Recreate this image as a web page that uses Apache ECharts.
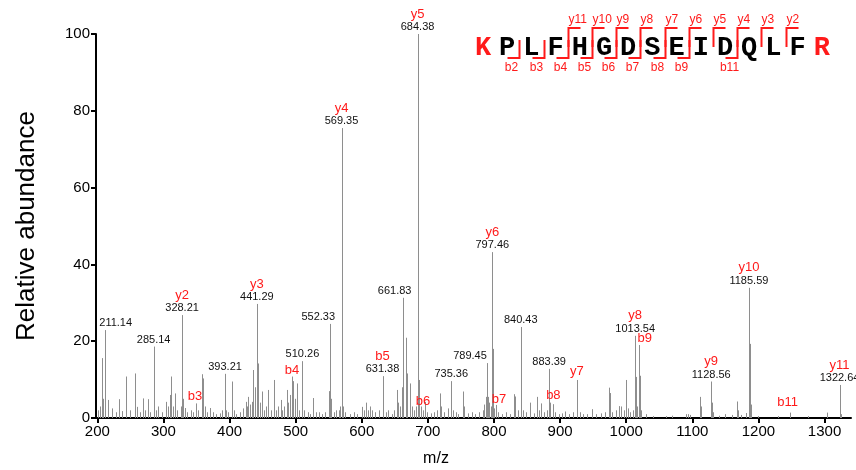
<!DOCTYPE html>
<html>
<head>
<meta charset="utf-8">
<script src="https://cdn.jsdelivr.net/npm/echarts@6/dist/echarts.min.js"></script>
<style>
html, body { margin: 0; padding: 0; background: #fff; }
#chart { width: 856px; height: 470px; }
</style>
</head>
<body>
<div id="chart"></div>
<script>
// Annotated fragment peaks: m/z, relative abundance, assigned ion
const annotatedMz = [211.14, 285.14, 328.21, 393.21, 441.29, 510.26, 552.33, 569.35, 631.38, 661.83,
  684.38, 735.36, 789.45, 797.46, 840.43, 883.39, 1013.54, 1128.56, 1185.59, 1322.64];
const annotatedAbundance = [22.9, 18.6, 26.8, 11.5, 29.7, 14.8, 24.5, 75.5, 10.9, 31.3,
  100, 9.6, 14.3, 43.2, 23.7, 12.8, 21.4, 9.5, 33.9, 8.6];
const annotatedIon = ['', '', 'y2', '', 'y3', '', '', 'y4', 'b5', '',
  'y5', '', '', 'y6', '', '', 'y8', 'y9', 'y10', 'y11'];

// Remaining centroided peaks of the MS/MS scan
const otherMz = [201.7, 204.5, 207.7, 209.0, 216.8, 222.0, 228.0, 233.4, 238.0, 244.0, 250.0, 257.1, 260.6,
  264.0, 268.7, 272.0, 276.3, 280.0, 289.0, 292.4, 298.0, 303.5, 307.0, 310.0, 311.5, 314.0, 317.6, 321.0,
  326.0, 329.2, 332.7, 336.0, 341.8, 344.0, 348.8, 352.0, 357.9, 360.4, 363.0, 366.0, 370.5, 375.0, 380.0,
  386.0, 389.0, 395.0, 398.0, 403.3, 406.0, 410.0, 416.0, 421.0, 424.5, 426.0, 428.4, 431.0, 433.5, 436.0,
  438.0, 443.5, 446.0, 448.6, 452.0, 455.0, 458.6, 462.0, 467.7, 471.0, 474.0, 477.3, 480.0, 483.0, 486.4,
  489.0, 492.0, 494.9, 496.5, 499.0, 501.5, 505.0, 513.0, 518.0, 522.0, 526.7, 531.0, 535.0, 540.0, 545.0,
  550.8, 553.5, 558.0, 561.0, 565.0, 567.0, 570.36, 572.0, 575.0, 582.0, 588.0, 593.0, 599.8, 603.0, 606.3,
  609.0, 612.3, 616.0, 620.0, 626.0, 636.0, 640.0, 645.0, 648.0, 652.7, 655.0, 658.0, 660.5, 662.8, 666.8,
  668.8, 672.8, 676.0, 679.0, 682.0, 685.39, 686.4, 689.0, 692.0, 695.4, 699.0, 704.0, 709.0, 714.0, 718.2,
  720.0, 725.0, 731.0, 738.0, 742.0, 746.0, 753.4, 755.0, 760.0, 766.0, 772.0, 778.0, 783.0, 785.5, 787.5,
  791.5, 793.0, 795.0, 798.46, 800.0, 802.8, 806.0, 812.0, 818.0, 824.0, 830.5, 832.0, 836.0, 841.43, 844.0,
  848.0, 855.2, 860.0, 865.2, 868.0, 871.8, 876.0, 880.0, 884.4, 889.4, 893.0, 898.0, 903.0, 907.6, 914.0,
  920.0, 926.3, 930.0, 935.0, 941.0, 948.4, 955.0, 962.0, 968.0, 974.0, 975.5, 979.0, 984.0, 988.7, 992.5,
  996.0, 1000.3, 1003.0, 1006.0, 1010.0, 1014.54, 1016.0, 1019.4, 1020.4, 1023.0, 1030.0, 1040.0, 1060.0,
  1070.0, 1090.0, 1093.0, 1096.0, 1111.2, 1112.5, 1129.6, 1132.0, 1140.0, 1149.0, 1160.0, 1167.6, 1169.0,
  1173.0, 1180.6, 1186.6, 1188.0, 1200.0, 1230.0, 1248.0, 1275.0, 1304.0, 1323.6, 1325.0];
const otherAbundance = [2, 3, 15.6, 5, 4.7, 2.5, 1.5, 4.9, 1.8, 10.8, 2, 11.6, 2.9,
  1.5, 5.1, 2, 4.9, 1.5, 2, 3, 1.5, 4.2, 3, 6, 10.8, 3, 6.4, 2,
  3, 5, 2.6, 1.5, 2, 1.5, 3.8, 2, 11.4, 10.3, 3, 1.5, 2.6, 1.5, 1,
  1.2, 2, 2, 1.5, 9.5, 2, 1, 1.5, 2.5, 4.2, 3, 5.5, 3.5, 4.2, 12.5,
  8, 14.2, 4, 6.9, 2, 3, 7.3, 2, 9.9, 2, 3, 4.7, 2, 3, 7.3,
  4, 6, 10.8, 9.6, 5, 9, 2, 2, 1.5, 1, 5.2, 1.5, 1.5, 1, 1.5,
  7, 5, 1.5, 2, 2, 3, 16, 3, 1.5, 1, 1.5, 1, 2.9, 2, 4,
  2, 3, 2, 1.5, 2, 1.5, 2, 1, 2, 7.3, 4, 3, 8, 21.4, 20.9,
  11.6, 9, 3, 2, 3, 30.3, 9.9, 3, 2, 4.2, 1.5, 1.2, 1.5, 2, 6.4,
  3, 1.5, 2.5, 2, 1.5, 1, 6.9, 3, 1.2, 1.5, 1, 1.5, 2, 3.5, 5.5,
  5.5, 4, 3, 18, 2.5, 3.4, 1.5, 1, 1.5, 1, 6.2, 5.6, 2, 20, 2,
  1.5, 4, 1.2, 5.5, 2, 3.8, 1.5, 2, 4, 3.6, 1.5, 1, 1.2, 1.7, 1,
  1.5, 9.9, 1.5, 1, 1, 2.3, 1, 1.2, 1.5, 7.9, 6.5, 1.5, 2, 3.1, 3,
  2, 9.9, 2.5, 1.5, 2, 10.7, 3, 19, 11, 2, 1, 0.5, 0.5,
  0.6, 1, 1, 0.8, 5.5, 3, 4, 1.5, 0.6, 1, 0.8, 4.3, 2,
  0.8, 1.3, 19.3, 3.5, 0.5, 0.5, 1.4, 0.5, 1.4, 4.7, 1];

// Fragment ions tagged without an m/z readout, anchored in m/z / abundance units
const tagIon = ['b3', 'b4', 'b6', 'b7', 'b8', 'b9', 'y7', 'b11'];
const tagMz = [347.8, 494.4, 692.5, 807.4, 889.8, 1027.9, 925.2, 1244.1];
const tagAbundance = [5.7, 12.5, 4.4, 4.9, 5.8, 20.8, 12.0, 4.0];

// Axis ticks
const xTicks = [200, 300, 400, 500, 600, 700, 800, 900, 1000, 1100, 1200, 1300];
const yTicks = [0, 20, 40, 60, 80, 100];

// Peptide sequence with observed fragment coverage
const sequence = 'KPLFHGDSEIDQLFR';
const yIonsSeen = [2, 3, 4, 5, 6, 7, 8, 9, 10, 11];
const bIonsSeen = [2, 3, 4, 5, 6, 7, 8, 9, 11];

// Horizontal nudges (px) for readouts that sit beside crowded peaks
const readoutShift = { '211.14': 11, '552.33': -12, '661.83': -8, '789.45': -17 };

const FONT = '"Liberation Sans", Arial, Helvetica, sans-serif';
const RED = '#ff1a1a';
const PEAK = '#8e8e8e';

const peaks = [];
annotatedMz.forEach((m, i) => peaks.push([m, annotatedAbundance[i]]));
otherMz.forEach((m, i) => peaks.push([m, otherAbundance[i]]));

const readouts = annotatedMz.map((m, i) => [m, annotatedAbundance[i], annotatedIon[i]]);
const tags = tagMz.map((m, i) => [m, tagAbundance[i], tagIon[i]]);

// Sequence coverage graphic
const seqGraphic = [];
const x0 = 483, step = 24.2, yc = 48;
for (let i = 0; i < sequence.length; i++) {
  const terminal = (i === 0 || i === sequence.length - 1);
  seqGraphic.push({
    type: 'text', x: x0 + step * i, y: yc,
    style: {
      text: sequence[i], font: 'bold 27px "Liberation Mono", "Courier New", monospace',
      fill: terminal ? RED : '#000', align: 'center', verticalAlign: 'middle'
    }
  });
}
const cut = k => Math.round(x0 + step * (k - 0.5)) + 0.5;
yIonsSeen.forEach(n => {
  const cx = cut(sequence.length - n);
  seqGraphic.push({ type: 'polyline', shape: { points: [[cx + 12, 28], [cx, 28], [cx, 47]] },
    style: { stroke: RED, lineWidth: 2, fill: null } });
  seqGraphic.push({ type: 'text', x: cx, y: 20,
    style: { text: 'y' + n, font: '12px ' + FONT, fill: RED, align: 'left', verticalAlign: 'middle' } });
});
bIonsSeen.forEach(n => {
  const cx = cut(n);
  seqGraphic.push({ type: 'polyline', shape: { points: [[cx, 40], [cx, 58], [cx - 12, 58]] },
    style: { stroke: RED, lineWidth: 2, fill: null } });
  seqGraphic.push({ type: 'text', x: cx - 8, y: 68,
    style: { text: 'b' + n, font: '12px ' + FONT, fill: RED, align: 'center', verticalAlign: 'middle' } });
});
seqGraphic.push({ type: 'text', x: 436, y: 459,
  style: { text: 'm/z', font: '16px ' + FONT, fill: '#000', align: 'center', verticalAlign: 'middle' } });

const chart = echarts.init(document.getElementById('chart'), null, { renderer: 'canvas' });
chart.setOption({
  animation: false,
  backgroundColor: '#fff',
  grid: { left: 96, right: 5, top: 34, bottom: 52, containLabel: false },
  xAxis: {
    type: 'value', min: 198, max: 1340,
    axisLine: { lineStyle: { color: '#000', width: 2 } },
    axisTick: { show: true, length: 5, lineStyle: { color: '#000', width: 2 }, customValues: xTicks },
    axisLabel: { color: '#000', fontSize: 15, fontFamily: FONT, margin: 6, customValues: xTicks,
      formatter: v => String(v) },
    splitLine: { show: false }
  },
  yAxis: {
    type: 'value', min: 0, max: 100, interval: 20,
    name: 'Relative abundance', nameLocation: 'middle', nameGap: 56,
    nameTextStyle: { color: '#000', fontSize: 26, fontFamily: FONT },
    axisLine: { show: true, lineStyle: { color: '#000', width: 2 } },
    axisTick: { show: true, length: 5, lineStyle: { color: '#000', width: 2 }, customValues: yTicks },
    axisLabel: { color: '#000', fontSize: 15, fontFamily: FONT, margin: 6, customValues: yTicks,
      formatter: v => String(v) },
    splitLine: { show: false }
  },
  graphic: seqGraphic,
  series: [
    {
      type: 'custom', data: peaks, clip: true,
      renderItem(params, api) {
        const b = api.coord([api.value(0), 0]);
        const t = api.coord([api.value(0), api.value(1)]);
        const x = Math.round(b[0]) + 0.5;
        return { type: 'line', shape: { x1: x, y1: b[1], x2: x, y2: t[1] },
          style: { stroke: PEAK, lineWidth: 1 } };
      }
    },
    {
      type: 'custom', data: readouts, clip: false, z: 5,
      renderItem(params, api) {
        const d = readouts[params.dataIndex];
        const p = api.coord([d[0], d[1]]);
        const key = d[0].toFixed(2);
        const dx = readoutShift[key] || 0;
        const children = [{ type: 'text', x: p[0] + dx, y: p[1] - 7,
          style: { text: key, font: '11px ' + FONT, fill: '#111', align: 'center', verticalAlign: 'middle' } }];
        if (d[2]) {
          children.push({ type: 'text', x: p[0] + dx, y: p[1] - 20,
            style: { text: d[2], font: '13px ' + FONT, fill: RED, align: 'center', verticalAlign: 'middle' } });
        }
        return { type: 'group', children };
      }
    },
    {
      type: 'custom', data: tags, clip: false, z: 5,
      renderItem(params, api) {
        const d = tags[params.dataIndex];
        const p = api.coord([d[0], d[1]]);
        return { type: 'text', x: p[0], y: p[1],
          style: { text: d[2], font: '13px ' + FONT, fill: RED, align: 'center', verticalAlign: 'middle' } };
      }
    }
  ]
});
</script>
</body>
</html>
